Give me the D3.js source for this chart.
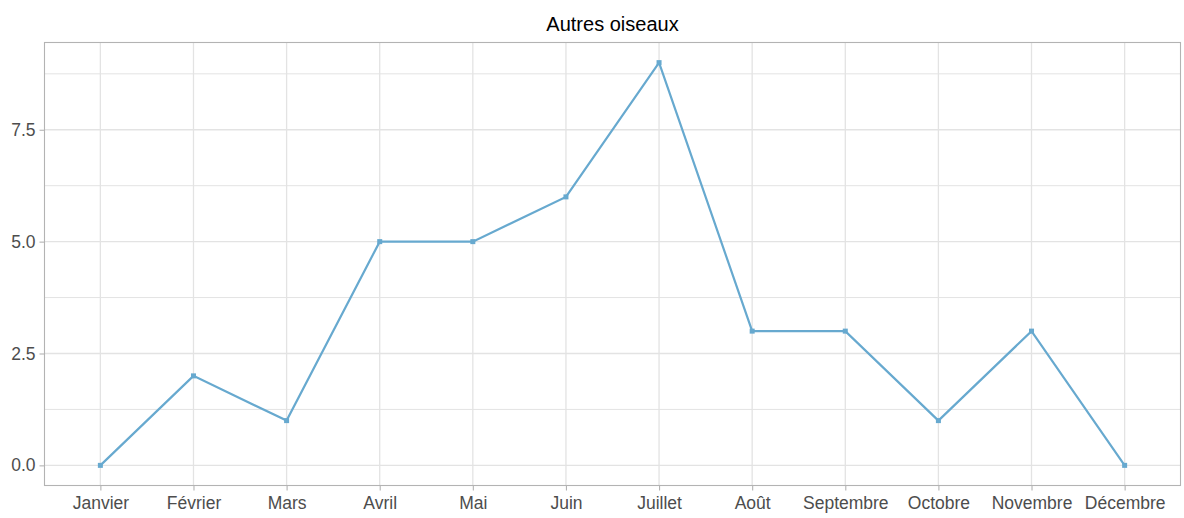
<!DOCTYPE html>
<html>
<head>
<meta charset="utf-8">
<script src="https://cdn.jsdelivr.net/npm/d3@7"></script>
<style>
  body { margin: 0; background: #fff; }
  text { font-family: "Liberation Sans", Arial, sans-serif; }
</style>
</head>
<body>
<script>
// chart data
var months = ["Janvier", "Février", "Mars", "Avril", "Mai", "Juin", "Juillet",
              "Août", "Septembre", "Octobre", "Novembre", "Décembre"];
var counts = [0, 2, 1, 5, 5, 6, 9, 3, 3, 1, 3, 0];
var y_ticks = [0, 2.5, 5, 7.5];
var y_minor = [1.25, 3.75, 6.25, 8.75];
var chart_title = "Autres oiseaux";

var width = 1184, height = 518;
var margin = {top: 42.5, right: 3.5, bottom: 32.5, left: 44.5};
var plot_w = width - margin.left - margin.right;
var plot_h = height - margin.top - margin.bottom;

var svg = d3.select("body").append("svg")
    .attr("width", width)
    .attr("height", height);

var g = svg.append("g")
    .attr("transform", "translate(" + margin.left + "," + margin.top + ")");

// x scale: discrete with ggplot-like 0.6 expansion
var x_scale = d3.scalePoint()
    .domain(months)
    .range([0, plot_w])
    .padding(0.6);

// y scale with 5% expansion
var y_max = d3.max(counts);
var y_scale = d3.scaleLinear()
    .domain([-0.05 * y_max, y_max * 1.05])
    .range([plot_h, 0]);

var grid_col = "#e3e3e3";

// minor gridlines
g.selectAll(".minor")
  .data(y_minor)
  .enter().append("line")
    .attr("x1", 0).attr("x2", plot_w)
    .attr("y1", function(d) { return y_scale(d); })
    .attr("y2", function(d) { return y_scale(d); })
    .attr("stroke", grid_col)
    .attr("stroke-width", 1);

// major gridlines
g.selectAll(".major")
  .data(y_ticks)
  .enter().append("line")
    .attr("x1", 0).attr("x2", plot_w)
    .attr("y1", function(d) { return y_scale(d); })
    .attr("y2", function(d) { return y_scale(d); })
    .attr("stroke", grid_col)
    .attr("stroke-width", 1.3);

g.selectAll(".xgrid")
  .data(months)
  .enter().append("line")
    .attr("x1", function(d) { return x_scale(d); })
    .attr("x2", function(d) { return x_scale(d); })
    .attr("y1", 0).attr("y2", plot_h)
    .attr("stroke", grid_col)
    .attr("stroke-width", 1.3);

// panel border
g.append("rect")
    .attr("width", plot_w)
    .attr("height", plot_h)
    .attr("fill", "none")
    .attr("stroke", "#b3b3b3")
    .attr("stroke-width", 1.1);

// axes
var x_axis = d3.axisBottom(x_scale).tickSize(5).tickPadding(6);
var y_axis = d3.axisLeft(y_scale).tickValues(y_ticks).tickSize(5).tickPadding(4)
    .tickFormat(d3.format(".1f"));

var xa = g.append("g")
    .attr("transform", "translate(0," + plot_h + ")")
    .call(x_axis);
var ya = g.append("g").call(y_axis);

[xa, ya].forEach(function(a) {
  a.select(".domain").remove();
  a.selectAll("line").attr("stroke", "#b3b3b3").attr("stroke-width", 1.1);
  a.selectAll("text")
    .attr("fill", "#4d4d4d")
    .style("font-size", "17.5px")
    .style("font-family", "'Liberation Sans', Arial, sans-serif");
});

// line
var line = d3.line()
    .x(function(d, i) { return x_scale(months[i]); })
    .y(function(d) { return y_scale(d); });

g.append("path")
    .datum(counts)
    .attr("d", line)
    .attr("fill", "none")
    .attr("stroke", "#67a9cf")
    .attr("stroke-width", 2.2);

// points
g.selectAll(".pt")
  .data(counts)
  .enter().append("rect")
    .attr("x", function(d, i) { return x_scale(months[i]) - 2.5; })
    .attr("y", function(d) { return y_scale(d) - 2.5; })
    .attr("width", 5)
    .attr("height", 5)
    .attr("fill", "#67a9cf");

// title
svg.append("text")
    .attr("x", margin.left + plot_w / 2)
    .attr("y", 31)
    .attr("text-anchor", "middle")
    .attr("fill", "#000")
    .style("font-size", "20px")
    .text(chart_title);
</script>
</body>
</html>
